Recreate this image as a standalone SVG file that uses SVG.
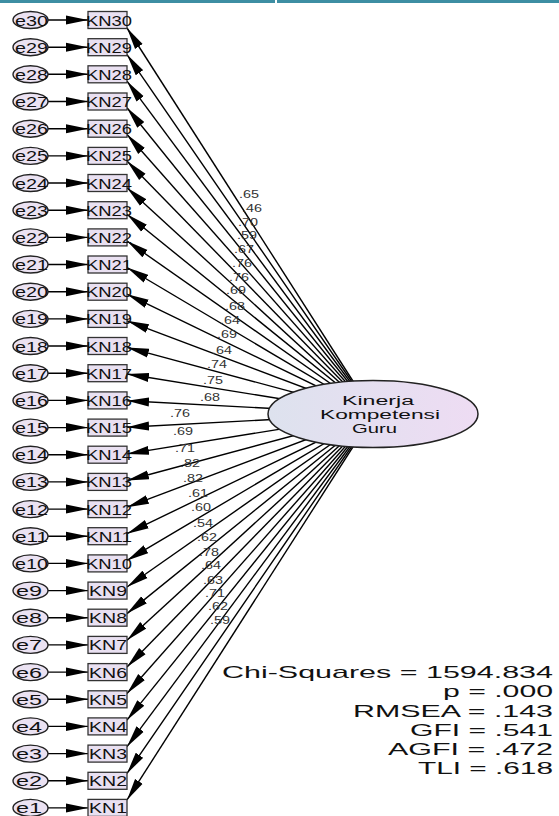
<svg xmlns="http://www.w3.org/2000/svg" width="559" height="816" viewBox="0 0 559 816">
<style>
text{font-family:"Liberation Sans",Arial,sans-serif;fill:#111}
.el{fill:#ebe2f2;stroke:#222;stroke-width:1.4}
.bx{fill:#e9e0f1;stroke:#333;stroke-width:1.3}
.et{font-size:15.5px}
.kt{font-size:15.5px}
.ln{stroke:#000;stroke-width:1.4;fill:none;marker-end:url(#ah)}
.lb{font-size:10.5px;fill:#333}
.st{font-size:17px;fill:#111}
.lt{font-size:12px;fill:#111}
</style>
<defs>
<marker id="ah" markerUnits="userSpaceOnUse" viewBox="0 0 22 10" refX="22" refY="5" markerWidth="22" markerHeight="10" orient="auto"><path d="M0,0.5 L22,5 L0,9.5 z" fill="#000"/></marker>
<linearGradient id="lg" x1="0" y1="0" x2="1" y2="0"><stop offset="0" stop-color="#dde2ee"/><stop offset="1" stop-color="#eedcf3"/></linearGradient>
</defs>
<rect x="0" y="0" width="275" height="3" fill="#3d8ea3"/>
<rect x="277" y="0" width="282" height="3" fill="#3d8ea3"/>
<g id="connectors">
<path class="ln" d="M48,20 H88"/><path class="ln" d="M48,47.2 H88"/><path class="ln" d="M48,74.3 H88"/><path class="ln" d="M48,101.5 H88"/><path class="ln" d="M48,128.7 H88"/><path class="ln" d="M48,155.9 H88"/><path class="ln" d="M48,183 H88"/><path class="ln" d="M48,210.2 H88"/><path class="ln" d="M48,237.4 H88"/><path class="ln" d="M48,264.5 H88"/><path class="ln" d="M48,291.7 H88"/><path class="ln" d="M48,318.9 H88"/><path class="ln" d="M48,346 H88"/><path class="ln" d="M48,373.2 H88"/><path class="ln" d="M48,400.4 H88"/><path class="ln" d="M48,427.6 H88"/><path class="ln" d="M48,454.7 H88"/><path class="ln" d="M48,481.9 H88"/><path class="ln" d="M48,509.1 H88"/><path class="ln" d="M48,536.2 H88"/><path class="ln" d="M48,563.4 H88"/><path class="ln" d="M48,590.6 H88"/><path class="ln" d="M48,617.7 H88"/><path class="ln" d="M48,644.9 H88"/><path class="ln" d="M48,672.1 H88"/><path class="ln" d="M48,699.3 H88"/><path class="ln" d="M48,726.4 H88"/><path class="ln" d="M48,753.6 H88"/><path class="ln" d="M48,780.8 H88"/><path class="ln" d="M48,807.9 H88"/>
<path class="ln" d="M374,414 L127,28"/><path class="ln" d="M374,414 L127,54.6"/><path class="ln" d="M374,414 L127,81.2"/><path class="ln" d="M374,414 L127,107.8"/><path class="ln" d="M374,414 L127,134.5"/><path class="ln" d="M374,414 L127,161.1"/><path class="ln" d="M374,414 L127,187.7"/><path class="ln" d="M374,414 L127,214.3"/><path class="ln" d="M374,414 L127,241"/><path class="ln" d="M374,414 L127,267.5"/><path class="ln" d="M374,414 L127,294.2"/><path class="ln" d="M374,414 L127,320.8"/><path class="ln" d="M374,414 L127,347.4"/><path class="ln" d="M374,414 L127,374"/><path class="ln" d="M374,414 L127,400.7"/><path class="ln" d="M374,414 L127,427.3"/><path class="ln" d="M374,414 L127,453.9"/><path class="ln" d="M374,414 L127,480.5"/><path class="ln" d="M374,414 L127,507.2"/><path class="ln" d="M374,414 L127,533.7"/><path class="ln" d="M374,414 L127,560.4"/><path class="ln" d="M374,414 L127,587"/><path class="ln" d="M374,414 L127,613.6"/><path class="ln" d="M374,414 L127,640.2"/><path class="ln" d="M374,414 L127,666.9"/><path class="ln" d="M374,414 L127,693.5"/><path class="ln" d="M374,414 L127,720.1"/><path class="ln" d="M374,414 L127,746.7"/><path class="ln" d="M374,414 L127,773.4"/><path class="ln" d="M374,414 L127,799.9"/>
<g id="loadings">
<text class="lb" x="239" y="198" textLength="20" lengthAdjust="spacingAndGlyphs">.65</text>
<text class="lb" x="242" y="212" textLength="20" lengthAdjust="spacingAndGlyphs">.46</text>
<text class="lb" x="238" y="226" textLength="20" lengthAdjust="spacingAndGlyphs">.70</text>
<text class="lb" x="237" y="239" textLength="20" lengthAdjust="spacingAndGlyphs">.59</text>
<text class="lb" x="234" y="253" textLength="20" lengthAdjust="spacingAndGlyphs">.67</text>
<text class="lb" x="232" y="267" textLength="20" lengthAdjust="spacingAndGlyphs">.76</text>
<text class="lb" x="229" y="281" textLength="20" lengthAdjust="spacingAndGlyphs">.76</text>
<text class="lb" x="226" y="294" textLength="20" lengthAdjust="spacingAndGlyphs">.69</text>
<text class="lb" x="225" y="310" textLength="20" lengthAdjust="spacingAndGlyphs">.68</text>
<text class="lb" x="220" y="324" textLength="20" lengthAdjust="spacingAndGlyphs">.64</text>
<text class="lb" x="217" y="338" textLength="20" lengthAdjust="spacingAndGlyphs">.69</text>
<text class="lb" x="212" y="354" textLength="20" lengthAdjust="spacingAndGlyphs">.64</text>
<text class="lb" x="207" y="368" textLength="20" lengthAdjust="spacingAndGlyphs">.74</text>
<text class="lb" x="203" y="384" textLength="20" lengthAdjust="spacingAndGlyphs">.75</text>
<text class="lb" x="200" y="401" textLength="20" lengthAdjust="spacingAndGlyphs">.68</text>
<text class="lb" x="170" y="417" textLength="20" lengthAdjust="spacingAndGlyphs">.76</text>
<text class="lb" x="173" y="435" textLength="20" lengthAdjust="spacingAndGlyphs">.69</text>
<text class="lb" x="175" y="452" textLength="20" lengthAdjust="spacingAndGlyphs">.71</text>
<text class="lb" x="180" y="467" textLength="20" lengthAdjust="spacingAndGlyphs">.82</text>
<text class="lb" x="183" y="482" textLength="20" lengthAdjust="spacingAndGlyphs">.82</text>
<text class="lb" x="188" y="497" textLength="20" lengthAdjust="spacingAndGlyphs">.61</text>
<text class="lb" x="191" y="511" textLength="20" lengthAdjust="spacingAndGlyphs">.60</text>
<text class="lb" x="193" y="527" textLength="20" lengthAdjust="spacingAndGlyphs">.54</text>
<text class="lb" x="197" y="541" textLength="20" lengthAdjust="spacingAndGlyphs">.62</text>
<text class="lb" x="199" y="556" textLength="20" lengthAdjust="spacingAndGlyphs">.78</text>
<text class="lb" x="201" y="569" textLength="20" lengthAdjust="spacingAndGlyphs">.64</text>
<text class="lb" x="203" y="584" textLength="20" lengthAdjust="spacingAndGlyphs">.63</text>
<text class="lb" x="205" y="597" textLength="20" lengthAdjust="spacingAndGlyphs">.71</text>
<text class="lb" x="208" y="610" textLength="20" lengthAdjust="spacingAndGlyphs">.62</text>
<text class="lb" x="210" y="624" textLength="20" lengthAdjust="spacingAndGlyphs">.59</text>
</g>
</g>
<g id="e30"><ellipse class="el" cx="30.5" cy="20" rx="17.5" ry="8.5"/><text class="et" x="15" y="25.5" textLength="33" lengthAdjust="spacingAndGlyphs">e30</text></g>
<g id="e29"><ellipse class="el" cx="30.5" cy="47.2" rx="17.5" ry="8.5"/><text class="et" x="15" y="52.7" textLength="33" lengthAdjust="spacingAndGlyphs">e29</text></g>
<g id="e28"><ellipse class="el" cx="30.5" cy="74.3" rx="17.5" ry="8.5"/><text class="et" x="15" y="79.8" textLength="33" lengthAdjust="spacingAndGlyphs">e28</text></g>
<g id="e27"><ellipse class="el" cx="30.5" cy="101.5" rx="17.5" ry="8.5"/><text class="et" x="15" y="107" textLength="33" lengthAdjust="spacingAndGlyphs">e27</text></g>
<g id="e26"><ellipse class="el" cx="30.5" cy="128.7" rx="17.5" ry="8.5"/><text class="et" x="15" y="134.2" textLength="33" lengthAdjust="spacingAndGlyphs">e26</text></g>
<g id="e25"><ellipse class="el" cx="30.5" cy="155.9" rx="17.5" ry="8.5"/><text class="et" x="15" y="161.4" textLength="33" lengthAdjust="spacingAndGlyphs">e25</text></g>
<g id="e24"><ellipse class="el" cx="30.5" cy="183" rx="17.5" ry="8.5"/><text class="et" x="15" y="188.5" textLength="33" lengthAdjust="spacingAndGlyphs">e24</text></g>
<g id="e23"><ellipse class="el" cx="30.5" cy="210.2" rx="17.5" ry="8.5"/><text class="et" x="15" y="215.7" textLength="33" lengthAdjust="spacingAndGlyphs">e23</text></g>
<g id="e22"><ellipse class="el" cx="30.5" cy="237.4" rx="17.5" ry="8.5"/><text class="et" x="15" y="242.9" textLength="33" lengthAdjust="spacingAndGlyphs">e22</text></g>
<g id="e21"><ellipse class="el" cx="30.5" cy="264.5" rx="17.5" ry="8.5"/><text class="et" x="15" y="270" textLength="33" lengthAdjust="spacingAndGlyphs">e21</text></g>
<g id="e20"><ellipse class="el" cx="30.5" cy="291.7" rx="17.5" ry="8.5"/><text class="et" x="15" y="297.2" textLength="33" lengthAdjust="spacingAndGlyphs">e20</text></g>
<g id="e19"><ellipse class="el" cx="30.5" cy="318.9" rx="17.5" ry="8.5"/><text class="et" x="15" y="324.4" textLength="33" lengthAdjust="spacingAndGlyphs">e19</text></g>
<g id="e18"><ellipse class="el" cx="30.5" cy="346" rx="17.5" ry="8.5"/><text class="et" x="15" y="351.5" textLength="33" lengthAdjust="spacingAndGlyphs">e18</text></g>
<g id="e17"><ellipse class="el" cx="30.5" cy="373.2" rx="17.5" ry="8.5"/><text class="et" x="15" y="378.7" textLength="33" lengthAdjust="spacingAndGlyphs">e17</text></g>
<g id="e16"><ellipse class="el" cx="30.5" cy="400.4" rx="17.5" ry="8.5"/><text class="et" x="15" y="405.9" textLength="33" lengthAdjust="spacingAndGlyphs">e16</text></g>
<g id="e15"><ellipse class="el" cx="30.5" cy="427.6" rx="17.5" ry="8.5"/><text class="et" x="15" y="433.1" textLength="33" lengthAdjust="spacingAndGlyphs">e15</text></g>
<g id="e14"><ellipse class="el" cx="30.5" cy="454.7" rx="17.5" ry="8.5"/><text class="et" x="15" y="460.2" textLength="33" lengthAdjust="spacingAndGlyphs">e14</text></g>
<g id="e13"><ellipse class="el" cx="30.5" cy="481.9" rx="17.5" ry="8.5"/><text class="et" x="15" y="487.4" textLength="33" lengthAdjust="spacingAndGlyphs">e13</text></g>
<g id="e12"><ellipse class="el" cx="30.5" cy="509.1" rx="17.5" ry="8.5"/><text class="et" x="15" y="514.6" textLength="33" lengthAdjust="spacingAndGlyphs">e12</text></g>
<g id="e11"><ellipse class="el" cx="30.5" cy="536.2" rx="17.5" ry="8.5"/><text class="et" x="15" y="541.7" textLength="33" lengthAdjust="spacingAndGlyphs">e11</text></g>
<g id="e10"><ellipse class="el" cx="30.5" cy="563.4" rx="17.5" ry="8.5"/><text class="et" x="15" y="568.9" textLength="33" lengthAdjust="spacingAndGlyphs">e10</text></g>
<g id="e9"><ellipse class="el" cx="30.5" cy="590.6" rx="17.5" ry="8.5"/><text class="et" x="16" y="596.1" textLength="26" lengthAdjust="spacingAndGlyphs">e9</text></g>
<g id="e8"><ellipse class="el" cx="30.5" cy="617.7" rx="17.5" ry="8.5"/><text class="et" x="16" y="623.2" textLength="26" lengthAdjust="spacingAndGlyphs">e8</text></g>
<g id="e7"><ellipse class="el" cx="30.5" cy="644.9" rx="17.5" ry="8.5"/><text class="et" x="16" y="650.4" textLength="26" lengthAdjust="spacingAndGlyphs">e7</text></g>
<g id="e6"><ellipse class="el" cx="30.5" cy="672.1" rx="17.5" ry="8.5"/><text class="et" x="16" y="677.6" textLength="26" lengthAdjust="spacingAndGlyphs">e6</text></g>
<g id="e5"><ellipse class="el" cx="30.5" cy="699.3" rx="17.5" ry="8.5"/><text class="et" x="16" y="704.8" textLength="26" lengthAdjust="spacingAndGlyphs">e5</text></g>
<g id="e4"><ellipse class="el" cx="30.5" cy="726.4" rx="17.5" ry="8.5"/><text class="et" x="16" y="731.9" textLength="26" lengthAdjust="spacingAndGlyphs">e4</text></g>
<g id="e3"><ellipse class="el" cx="30.5" cy="753.6" rx="17.5" ry="8.5"/><text class="et" x="16" y="759.1" textLength="26" lengthAdjust="spacingAndGlyphs">e3</text></g>
<g id="e2"><ellipse class="el" cx="30.5" cy="780.8" rx="17.5" ry="8.5"/><text class="et" x="16" y="786.3" textLength="26" lengthAdjust="spacingAndGlyphs">e2</text></g>
<g id="e1"><ellipse class="el" cx="30.5" cy="807.9" rx="17.5" ry="8.5"/><text class="et" x="16" y="813.4" textLength="26" lengthAdjust="spacingAndGlyphs">e1</text></g>
<g id="KN30"><rect class="bx" x="88" y="11.5" width="39" height="17"/><text class="kt" x="86" y="25.5" textLength="46" lengthAdjust="spacingAndGlyphs">KN30</text></g>
<g id="KN29"><rect class="bx" x="88" y="38.7" width="39" height="17"/><text class="kt" x="86" y="52.7" textLength="46" lengthAdjust="spacingAndGlyphs">KN29</text></g>
<g id="KN28"><rect class="bx" x="88" y="65.8" width="39" height="17"/><text class="kt" x="86" y="79.8" textLength="46" lengthAdjust="spacingAndGlyphs">KN28</text></g>
<g id="KN27"><rect class="bx" x="88" y="93" width="39" height="17"/><text class="kt" x="86" y="107" textLength="46" lengthAdjust="spacingAndGlyphs">KN27</text></g>
<g id="KN26"><rect class="bx" x="88" y="120.2" width="39" height="17"/><text class="kt" x="86" y="134.2" textLength="46" lengthAdjust="spacingAndGlyphs">KN26</text></g>
<g id="KN25"><rect class="bx" x="88" y="147.4" width="39" height="17"/><text class="kt" x="86" y="161.4" textLength="46" lengthAdjust="spacingAndGlyphs">KN25</text></g>
<g id="KN24"><rect class="bx" x="88" y="174.5" width="39" height="17"/><text class="kt" x="86" y="188.5" textLength="46" lengthAdjust="spacingAndGlyphs">KN24</text></g>
<g id="KN23"><rect class="bx" x="88" y="201.7" width="39" height="17"/><text class="kt" x="86" y="215.7" textLength="46" lengthAdjust="spacingAndGlyphs">KN23</text></g>
<g id="KN22"><rect class="bx" x="88" y="228.9" width="39" height="17"/><text class="kt" x="86" y="242.9" textLength="46" lengthAdjust="spacingAndGlyphs">KN22</text></g>
<g id="KN21"><rect class="bx" x="88" y="256" width="39" height="17"/><text class="kt" x="86" y="270" textLength="46" lengthAdjust="spacingAndGlyphs">KN21</text></g>
<g id="KN20"><rect class="bx" x="88" y="283.2" width="39" height="17"/><text class="kt" x="86" y="297.2" textLength="46" lengthAdjust="spacingAndGlyphs">KN20</text></g>
<g id="KN19"><rect class="bx" x="88" y="310.4" width="39" height="17"/><text class="kt" x="86" y="324.4" textLength="46" lengthAdjust="spacingAndGlyphs">KN19</text></g>
<g id="KN18"><rect class="bx" x="88" y="337.5" width="39" height="17"/><text class="kt" x="86" y="351.5" textLength="46" lengthAdjust="spacingAndGlyphs">KN18</text></g>
<g id="KN17"><rect class="bx" x="88" y="364.7" width="39" height="17"/><text class="kt" x="86" y="378.7" textLength="46" lengthAdjust="spacingAndGlyphs">KN17</text></g>
<g id="KN16"><rect class="bx" x="88" y="391.9" width="39" height="17"/><text class="kt" x="86" y="405.9" textLength="46" lengthAdjust="spacingAndGlyphs">KN16</text></g>
<g id="KN15"><rect class="bx" x="88" y="419.1" width="39" height="17"/><text class="kt" x="86" y="433.1" textLength="46" lengthAdjust="spacingAndGlyphs">KN15</text></g>
<g id="KN14"><rect class="bx" x="88" y="446.2" width="39" height="17"/><text class="kt" x="86" y="460.2" textLength="46" lengthAdjust="spacingAndGlyphs">KN14</text></g>
<g id="KN13"><rect class="bx" x="88" y="473.4" width="39" height="17"/><text class="kt" x="86" y="487.4" textLength="46" lengthAdjust="spacingAndGlyphs">KN13</text></g>
<g id="KN12"><rect class="bx" x="88" y="500.6" width="39" height="17"/><text class="kt" x="86" y="514.6" textLength="46" lengthAdjust="spacingAndGlyphs">KN12</text></g>
<g id="KN11"><rect class="bx" x="88" y="527.7" width="39" height="17"/><text class="kt" x="86" y="541.7" textLength="46" lengthAdjust="spacingAndGlyphs">KN11</text></g>
<g id="KN10"><rect class="bx" x="88" y="554.9" width="39" height="17"/><text class="kt" x="86" y="568.9" textLength="46" lengthAdjust="spacingAndGlyphs">KN10</text></g>
<g id="KN9"><rect class="bx" x="88" y="582.1" width="39" height="17"/><text class="kt" x="89" y="596.1" textLength="38" lengthAdjust="spacingAndGlyphs">KN9</text></g>
<g id="KN8"><rect class="bx" x="88" y="609.2" width="39" height="17"/><text class="kt" x="89" y="623.2" textLength="38" lengthAdjust="spacingAndGlyphs">KN8</text></g>
<g id="KN7"><rect class="bx" x="88" y="636.4" width="39" height="17"/><text class="kt" x="89" y="650.4" textLength="38" lengthAdjust="spacingAndGlyphs">KN7</text></g>
<g id="KN6"><rect class="bx" x="88" y="663.6" width="39" height="17"/><text class="kt" x="89" y="677.6" textLength="38" lengthAdjust="spacingAndGlyphs">KN6</text></g>
<g id="KN5"><rect class="bx" x="88" y="690.8" width="39" height="17"/><text class="kt" x="89" y="704.8" textLength="38" lengthAdjust="spacingAndGlyphs">KN5</text></g>
<g id="KN4"><rect class="bx" x="88" y="717.9" width="39" height="17"/><text class="kt" x="89" y="731.9" textLength="38" lengthAdjust="spacingAndGlyphs">KN4</text></g>
<g id="KN3"><rect class="bx" x="88" y="745.1" width="39" height="17"/><text class="kt" x="89" y="759.1" textLength="38" lengthAdjust="spacingAndGlyphs">KN3</text></g>
<g id="KN2"><rect class="bx" x="88" y="772.3" width="39" height="17"/><text class="kt" x="89" y="786.3" textLength="38" lengthAdjust="spacingAndGlyphs">KN2</text></g>
<g id="KN1"><rect class="bx" x="88" y="799.4" width="39" height="17"/><text class="kt" x="89" y="813.4" textLength="38" lengthAdjust="spacingAndGlyphs">KN1</text></g>
<g id="latent">
<ellipse cx="373" cy="414" rx="105" ry="33.5" fill="url(#lg)" stroke="#222" stroke-width="1.5"/>
<text class="lt" x="342" y="404.5" textLength="72" lengthAdjust="spacingAndGlyphs">Kinerja</text>
<text class="lt" x="320" y="418.5" textLength="120" lengthAdjust="spacingAndGlyphs">Kompetensi</text>
<text class="lt" x="352" y="432.5" textLength="45" lengthAdjust="spacingAndGlyphs">Guru</text>
</g>
<g id="fit">
<text class="st" x="222" y="678" textLength="331" lengthAdjust="spacingAndGlyphs">Chi-Squares = 1594.834</text>
<text class="st" x="443" y="697" textLength="110" lengthAdjust="spacingAndGlyphs">p = .000</text>
<text class="st" x="353" y="716.5" textLength="200" lengthAdjust="spacingAndGlyphs">RMSEA = .143</text>
<text class="st" x="410" y="736" textLength="143" lengthAdjust="spacingAndGlyphs">GFI = .541</text>
<text class="st" x="388" y="755" textLength="165" lengthAdjust="spacingAndGlyphs">AGFI = .472</text>
<text class="st" x="418" y="774" textLength="135" lengthAdjust="spacingAndGlyphs">TLI = .618</text>
</g>
</svg>
